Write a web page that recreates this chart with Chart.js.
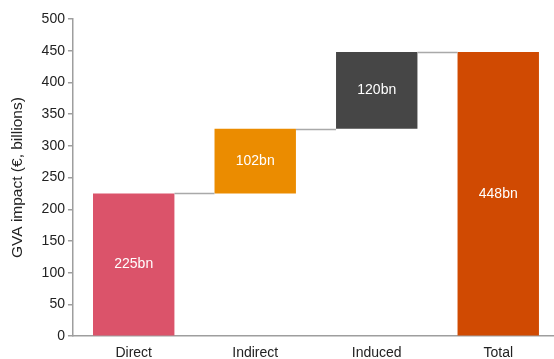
<!DOCTYPE html>
<html>
<head>
<meta charset="utf-8">
<script src="https://cdn.jsdelivr.net/npm/chart.js@4/dist/chart.umd.min.js"></script>
<style>
  html, body { margin: 0; padding: 0; background: #fff; overflow: hidden; }
  #wrap { width: 559px; height: 359px; }
</style>
</head>
<body>
<div id="wrap"><canvas id="chart"></canvas></div>
<script>
const categories = ["Direct", "Indirect", "Induced", "Total"];
const barStarts = [0, 225, 327, 0];
const barEnds = [225, 327, 448, 448];
const barLabels = ["225bn", "102bn", "120bn", "448bn"];
const barColors = ["#DB536A", "#EB8C00", "#464646", "#D04A02"];
const yTicks = [0, 50, 100, 150, 200, 250, 300, 350, 400, 450, 500];

const floating = categories.map((c, i) => [barStarts[i], barEnds[i]]);
const FONT = "'Liberation Sans', Arial, sans-serif";

// connector lines between bars + labels in the middle of each bar
const waterfallExtras = {
  id: "waterfallExtras",
  afterDatasetsDraw(chart) {
    const ctx = chart.ctx;
    const meta = chart.getDatasetMeta(0);
    const y = chart.scales.y;
    ctx.save();
    ctx.strokeStyle = "#a9a9a9";
    ctx.lineWidth = 1.5;
    for (let i = 0; i < meta.data.length - 1; i++) {
      const a = meta.data[i], b = meta.data[i + 1];
      const py = Math.round(y.getPixelForValue(barEnds[i])) + 0.5;
      ctx.beginPath();
      ctx.moveTo(a.x + a.width / 2, py);
      ctx.lineTo(b.x - b.width / 2, py);
      ctx.stroke();
    }
    ctx.fillStyle = "#ffffff";
    ctx.font = "14px " + FONT;
    ctx.textAlign = "center";
    ctx.textBaseline = "middle";
    meta.data.forEach((bar, i) => {
      ctx.fillText(barLabels[i], bar.x, (bar.y + bar.base) / 2);
    });
    ctx.restore();
  }
};

new Chart(document.getElementById("chart"), {
  type: "bar",
  data: {
    labels: categories,
    datasets: [{
      data: floating,
      backgroundColor: barColors,
      borderWidth: 0,
      categoryPercentage: 1,
      barPercentage: 0.67
    }]
  },
  options: {
    responsive: true,
    maintainAspectRatio: false,
    animation: false,
    layout: { padding: { top: 19, right: 0, left: 8, bottom: -12 } },
    plugins: { legend: { display: false }, tooltip: { enabled: false } },
    scales: {
      x: {
        grid: { display: false, drawTicks: false },
        border: { color: "#9e9e9e", width: 1.5 },
        ticks: { color: "#222", font: { family: FONT, size: 14 }, padding: 9 }
      },
      y: {
        min: 0,
        max: 500,
        afterBuildTicks(scale) { scale.ticks = yTicks.map(v => ({ value: v })); },
        grid: { drawOnChartArea: false, drawTicks: true, tickLength: 5, color: "#9e9e9e", lineWidth: 1.5 },
        border: { color: "#9e9e9e", width: 1.5 },
        ticks: { color: "#222", font: { family: FONT, size: 14 }, padding: 3 },
        title: {
          display: true,
          text: "GVA impact (€, billions)",
          color: "#222",
          font: { family: FONT, size: 15.5 },
          padding: { top: 0, bottom: 12 }
        }
      }
    }
  },
  plugins: [waterfallExtras]
});
</script>
</body>
</html>
